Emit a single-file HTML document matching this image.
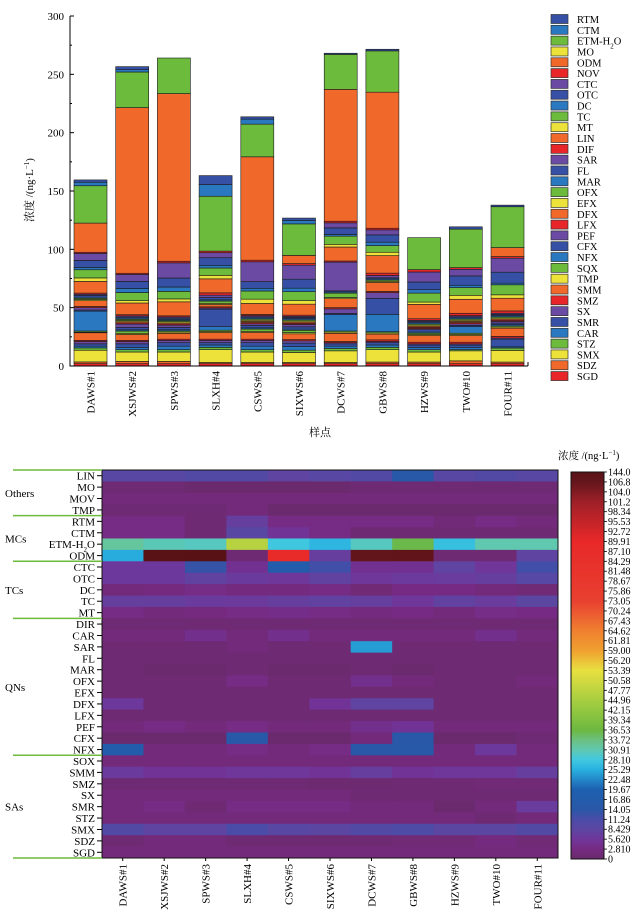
<!DOCTYPE html>
<html><head><meta charset="utf-8">
<style>
html,body{margin:0;padding:0;background:#fff;}
svg{display:block;font-family:"Liberation Serif","Noto Serif CJK SC","Noto Sans CJK SC",serif;}
</style></head>
<body>
<svg id="chart" width="640" height="916" viewBox="0 0 640 916" xmlns="http://www.w3.org/2000/svg">
<g id="topchart"></g>
<g id="heat"></g>
</svg>
<script>
// ===== Stacked bar chart data =====
const samples = ["DAWS#1","XSJWS#2","SPWS#3","SLXH#4","CSWS#5","SIXWS#6","DCWS#7","GBWS#8","HZWS#9","TWO#10","FOUR#11"];
const barSeries = ["SGD","SDZ","SMX","STZ","CAR","SMR","SX","SMZ","SMM","TMP","SQX","NFX","CFX","PEF","LFX","DFX","EFX","OFX","MAR","FL","SAR","DIF","LIN","MT","TC","DC","OTC","CTC","NOV","ODM","MO","ETM-H2O","CTM","RTM"];
const vSGD=[2,2,2,2,2,2,2,2,2,2,2];
const vSDZ=[1.5,2,2,1,1,1,1,1.4,1.4,2.4,1.4];
const vSMX=[10,8,8,11,9,8.6,10,10.6,8.6,8.6,10];
const vSTZ=[2,2,2,2,2,2,2,2,2,1,2];
const vCAR=[1.5,2,3,2,3,3,2,2,2,2,1];
const vSMR=[2,3,3,2,3,3,2,2,2,2,6.6];
const vSX=[2,2,2,2,2,2,1,1,1,1,1];
const vSMZ=[1,1,1,1,1,1,1,1.4,1.4,1.4,1.4];
const vSMM=[6.5,5,5,5.7,5.7,5,7,5,5.7,5.7,7];
const vTMP=[0.5,1,1,1,1,1,1,1,1,1,1];
const vSQX=[1,2,1,1,2,2,1,1,1,1,1];
const vNFX=[17,1,1,3,1,1,14,14.9,1,5.7,1];
const vCFX=[1,2,2,15,2,2,1,13.7,2,1,1.4];
const vPEF=[2,3,2,1,1.5,2,4,4.9,1,1.4,1.4];
const vLFX=[1,1,1,1,1,1,1,1,1,1,1];
const vDFX=[5,1,1,2,1,1,7.7,7.7,1,1,1];
const vEFX=[1,1,1,1,1,1,1,1,1,1,1];
const vOFX=[1,1,1,2,1,1,3.7,1,1,1,1];
const vMAR=[1,1,1,1,1,1,1,1,1,1,1];
const vFL=[1.5,1,1,2,1,1,1,1,1,1,1];
const vSAR=[1,1,1,2,1,1,24.6,2,1,1,1];
const vDIF=[1,1,1,2,1,1,1,2,1.4,2,2];
const vLIN=[10,10,12,12,9.4,9.4,12,15,12.3,12,10.9];
const vMT=[3,2,2.5,3,3.7,3,2.3,2.9,2,3.4,2.9];
const vTC=[7,7,6.5,6.3,7,7.7,7,5.7,7.7,6.6,8.6];
const vDC=[2,3.5,3.7,2.3,2.3,3,1.4,2.9,2.9,2,1.4];
const vOTC=[6,6,7.7,6.5,5.7,7.7,5.7,6.3,6.6,8,9.4];
const vCTC=[6,6,13,4.3,17,12,4.3,4.3,8.6,5.7,12];
const vNOV=[1,1,1.4,1.4,1.4,1.4,1.4,1.4,2,1.4,1.4];
const vODM=[25,142,143.7,0,88.6,7,113,116.6,0,0,7.7];
const vMO=[0,0,0,0,0,0,0,0,0,0,0];
const vETM=[32,30.5,30.5,47,28,27,30,35.4,27.4,33,35];
const vCTM=[3,2,0,10,4.3,3,0,0,0,0,0];
const vRTM=[2,2.6,0,7.7,2,2,1,1.4,0,2,1.4];
const barValues=[vSGD,vSDZ,vSMX,vSTZ,vCAR,vSMR,vSX,vSMZ,vSMM,vTMP,vSQX,vNFX,vCFX,vPEF,vLFX,vDFX,vEFX,vOFX,vMAR,vFL,vSAR,vDIF,vLIN,vMT,vTC,vDC,vOTC,vCTC,vNOV,vODM,vMO,vETM,vCTM,vRTM];
const yTicks=[0,50,100,150,200,250,300];

// ===== Heatmap data =====
const heatRows=["LIN","MO","MOV","TMP","RTM","CTM","ETM-H2O","ODM","CTC","OTC","DC","TC","MT","DIR","CAR","SAR","FL","MAR","OFX","EFX","DFX","LFX","PEF","CFX","NFX","SOX","SMM","SMZ","SX","SMR","STZ","SMX","SDZ","SGD"];
const hLIN=[9,9,10,10,8,9,10,15,9,10,9];
const hMO=[1,1,0.5,0.5,0.5,0.5,1,1,1,1,1];
const hMOV=[2,2,2,2,2,2,2,2,2,2,2];
const hTMP=[1,1,1,2,0.5,0.5,0.5,0.5,0.5,0.5,0.5];
const hRTM=[3,3,1,7,3,3,3,3,1.5,3,2];
const hCTM=[3,3,1,9,5,3,1,1,1,1,1];
const hETM=[32,30.5,30,47,28,26,30,36,27,31,31];
const hODM=[25,142,144,1,88,7,113,117,1,1,8];
const hCTC=[6,6,13,4.5,17,12,4.5,4.5,8,5.5,12];
const hOTC=[6,6,7.7,6.5,5.7,7.7,5.7,6.3,6.6,7,9.4];
const hDC=[2,2.5,3.5,2.3,2.3,3,1.4,2.9,2.9,2,1.4];
const hTC=[7,7,6.5,6.3,7,7.7,7,5.7,7.7,6.6,8.6];
const hMT=[3,2,2.5,3,3.7,3,2.3,2.9,2,3.4,2.9];
const hDIR=[1,1,1,1,1,1,1,1,1,1,1];
const hCAR=[2,2,4,2,4,2,2,2,2,4,2];
const hSAR=[1,1,1,2,1,1,24,1,1,1,1];
const hFL=[1,1,1,1,1,1,1,1,1,1,1];
const hMAR=[1,0.5,0.5,1,0.5,0.5,1,0.5,1,1,1];
const hOFX=[1,1,1,3,1,1,4,2,1,1,2];
const hEFX=[1,1,1,1,1,1,1,1,1,1,1];
const hDFX=[6,1,1,1,1,5,8,8,1,1,1];
const hLFX=[1,1,1,1,1,1,1,1,1,1,1];
const hPEF=[2,3,2,3,2,2,4,5,2,2,2];
const hCFX=[0.5,0.5,0.5,15,0.5,0.5,2,14,0.5,0.5,1];
const hNFX=[17,2,2,3,2,3,14,15,2,6,2];
const hSOX=[2,2,2,2,2,2,2,2,2,2,2];
const hSMM=[6.5,5,5,5.7,5.7,5,7,5,5.7,5.7,7];
const hSMZ=[1,1,1,1,1,0.8,0.8,1,1,1.4,1.4];
const hSX=[2,2,2,2,2,2,1,1,1,1,1];
const hSMR=[2,3,1,3,3,3,2,2,0.5,2,6.6];
const hSTZ=[2,2,2,2,2,2,2,2,2,1,2];
const hSMX=[10,8,8,11,9,8.6,10,10.6,8.6,8.6,10];
const hSDZ=[1,2,2,1,1,1,1,1.4,1.4,2.4,1.4];
const hSGD=[2,2,2,2,2,2,2,2,2,2,2];
const heatValues=[hLIN,hMO,hMOV,hTMP,hRTM,hCTM,hETM,hODM,hCTC,hOTC,hDC,hTC,hMT,hDIR,hCAR,hSAR,hFL,hMAR,hOFX,hEFX,hDFX,hLFX,hPEF,hCFX,hNFX,hSOX,hSMM,hSMZ,hSX,hSMR,hSTZ,hSMX,hSDZ,hSGD];
const cbLabels=["144.0","106.8","104.0","101.2","98.34","95.53","92.72","89.91","87.10","84.29","81.48","78.67","75.86","73.05","70.24","67.43","64.62","61.81","59.00","56.20","53.39","50.58","47.77","44.96","42.15","39.34","36.53","33.72","30.91","28.10","25.29","22.48","19.67","16.86","14.05","11.24","8.429","5.620","2.810","0"];
const groups=[["Others",0,4],["MCs",4,8],["TCs",8,13],["QNs",13,25],["SAs",25,34]];

const NS="http://www.w3.org/2000/svg";
function mk(tag,attrs,parent,text){const e=document.createElementNS(NS,tag);for(const k in attrs)e.setAttribute(k,attrs[k]);if(text!==undefined)e.textContent=text;parent.appendChild(e);return e;}

// ---------- top chart ----------
const topG=document.getElementById('topchart');
const palette=["#e8262a","#f0692a","#ece23a","#6cbb3c","#2a78c0","#3550a4","#6a4aa2"];
const y0=366, yScale=350/300;
const yPos=v=>y0-v*yScale;
const barX=i=>74+i*41.7;
const barW=33;
samples.forEach((s,i)=>{
  let cum=0;
  barValues.forEach((arr,k)=>{
    const v=arr[i]; if(v<=0) return;
    const r=mk('rect',{x:barX(i),y:yPos(cum+v),width:barW,height:v*yScale,fill:palette[k%7],stroke:"#1a1a1a","stroke-width":0.6},topG);
    
    
    cum+=v;
  });
  const t=mk('text',{x:0,y:0,transform:`translate(${barX(i)+barW/2+4},371) rotate(-90)`,"text-anchor":"end","font-size":11},topG,s);
  
  
});
const ax=mk('path',{d:`M70,${yPos(300)} V${y0} H528`,stroke:"#000","stroke-width":1,fill:"none"},topG);

for(let v=0;v<=300;v+=25){
  const big=v%50===0;
  mk('line',{x1:70,x2:big?74:72,y1:yPos(v),y2:yPos(v),stroke:"#000","stroke-width":1},topG);
}
mk('line',{x1:528,x2:528,y1:y0,y2:y0-4,stroke:"#000","stroke-width":1},topG);
yTicks.forEach(v=>{
  const t=mk('text',{x:64,y:yPos(v)+4,"text-anchor":"end","font-size":11},topG,String(v));
  
  
});
const yt=mk('text',{transform:"translate(33,190) rotate(-90)","text-anchor":"middle","font-size":11},topG);

yt.innerHTML='浓度 /(ng·L<tspan baseline-shift="super" font-size="7">−1</tspan>)';
const xt=mk('text',{x:320,y:436,"text-anchor":"middle","font-size":11},topG,"样点");

const leg=mk('g',{},topG);

for(let k=barSeries.length-1;k>=0;k--){
  const idx=barSeries.length-1-k;
  const ly=19+idx*10.82;
  const g=mk('g',{},leg);
  
  
  mk('rect',{x:551,y:ly-4.5,width:17,height:9,fill:palette[k%7],stroke:"#333","stroke-width":0.7},g);
  const t=mk('text',{x:577,y:ly+4,"font-size":10.5},g);
  if(barSeries[k]==="ETM-H2O") t.innerHTML='ETM-H<tspan baseline-shift="sub" font-size="7">2</tspan>O';
  else t.textContent=barSeries[k];
}

// ---------- heatmap ----------
const heat=document.getElementById('heat');
const hx0=102,hx1=558,hy0=470,hy1=858;
const cw=(hx1-hx0)/samples.length, rh=(hy1-hy0)/heatRows.length;
const stops=[[0,[106,42,106]],[2.8,[118,42,130]],[5.6,[112,54,154]],[8.4,[92,70,162]],[11.2,[74,76,168]],[14,[42,88,168]],[19.7,[30,96,176]],[25.3,[40,176,224]],[28.1,[64,200,224]],[30.9,[96,200,176]],[33.7,[108,192,128]],[36.5,[108,184,64]],[44,[160,204,64]],[53.4,[232,224,64]],[59,[240,160,48]],[64.6,[240,128,48]],[73,[232,64,48]],[89.9,[232,40,40]],[101,[160,32,40]],[106.8,[100,22,28]],[144,[88,18,22]]];
function cmap(v){
  for(let i=1;i<stops.length;i++){
    if(v<=stops[i][0]){const a=stops[i-1],b=stops[i];const t=(v-a[0])/(b[0]-a[0]);
      const c=a[1].map((x,j)=>Math.round(x+(b[1][j]-x)*t));return `rgb(${c[0]},${c[1]},${c[2]})`;}
  }
  const c=stops[stops.length-1][1];return `rgb(${c[0]},${c[1]},${c[2]})`;
}
heatRows.forEach((r,ri)=>{
  heatValues[ri].forEach((v,ci)=>{
    const c=mk('rect',{x:hx0+ci*cw,y:hy0+ri*rh,width:cw+0.5,height:rh+0.5,fill:cmap(v)},heat);
    
    
  });
  const cy=hy0+(ri+0.5)*rh;
  mk('line',{x1:97,x2:hx0,y1:cy,y2:cy,stroke:"#000","stroke-width":1},heat);
  const t=mk('text',{x:95,y:cy+4,"text-anchor":"end","font-size":11},heat);
  
  
  if(r==="ETM-H2O") t.innerHTML='ETM-H<tspan baseline-shift="sub" font-size="7">2</tspan>O';
  else t.textContent=r;
});
const hb=mk('rect',{x:hx0,y:hy0,width:hx1-hx0,height:hy1-hy0,fill:"none",stroke:"#111","stroke-width":1},heat);

samples.forEach((s,i)=>{
  const cx=hx0+(i+0.5)*cw;
  mk('line',{x1:cx,x2:cx,y1:hy1,y2:hy1+3,stroke:"#000","stroke-width":1},heat);
  const t=mk('text',{transform:`translate(${cx+4},864) rotate(-90)`,"text-anchor":"end","font-size":11},heat,s);
  
  
});
groups.forEach(g=>{
  const ya=hy0+g[1]*rh, yb=hy0+g[2]*rh;
  const t=mk('text',{x:5,y:(ya+yb)/2+4,"font-size":11},heat,g[0]);
  
  
  mk('line',{x1:13,x2:hx0,y1:ya,y2:ya,stroke:"#6cbb3c","stroke-width":1.5},heat);
});
mk('line',{x1:13,x2:hx0,y1:hy1,y2:hy1,stroke:"#6cbb3c","stroke-width":1.5},heat);
const cbx=571,cbw=33,cby0=472,cby1=859;
const defs=mk('defs',{},heat);
const lg=mk('linearGradient',{id:"cbg",x1:0,y1:1,x2:0,y2:0},defs);
for(let i=cbLabels.length-1;i>=0;i--){
  const off=(cbLabels.length-1-i)/(cbLabels.length-1);
  mk('stop',{offset:off,"stop-color":cmap(parseFloat(cbLabels[i]))},lg);
}
const cb=mk('rect',{x:cbx,y:cby0,width:cbw,height:cby1-cby0,fill:"url(#cbg)",stroke:"#111","stroke-width":1},heat);

cbLabels.forEach((l,i)=>{
  const y=cby0+i*(cby1-cby0)/(cbLabels.length-1);
  mk('line',{x1:cbx+cbw,x2:cbx+cbw+3,y1:y,y2:y,stroke:"#000","stroke-width":0.8},heat);
  const t=mk('text',{x:cbx+cbw+4,y:y+3.5,"font-size":10},heat,l);
  
  
});
const ct=mk('text',{x:558,y:459,"font-size":10.5},heat);

ct.innerHTML='浓度 /(ng·L<tspan baseline-shift="super" font-size="7">−1</tspan>)';
</script>
</body></html>
